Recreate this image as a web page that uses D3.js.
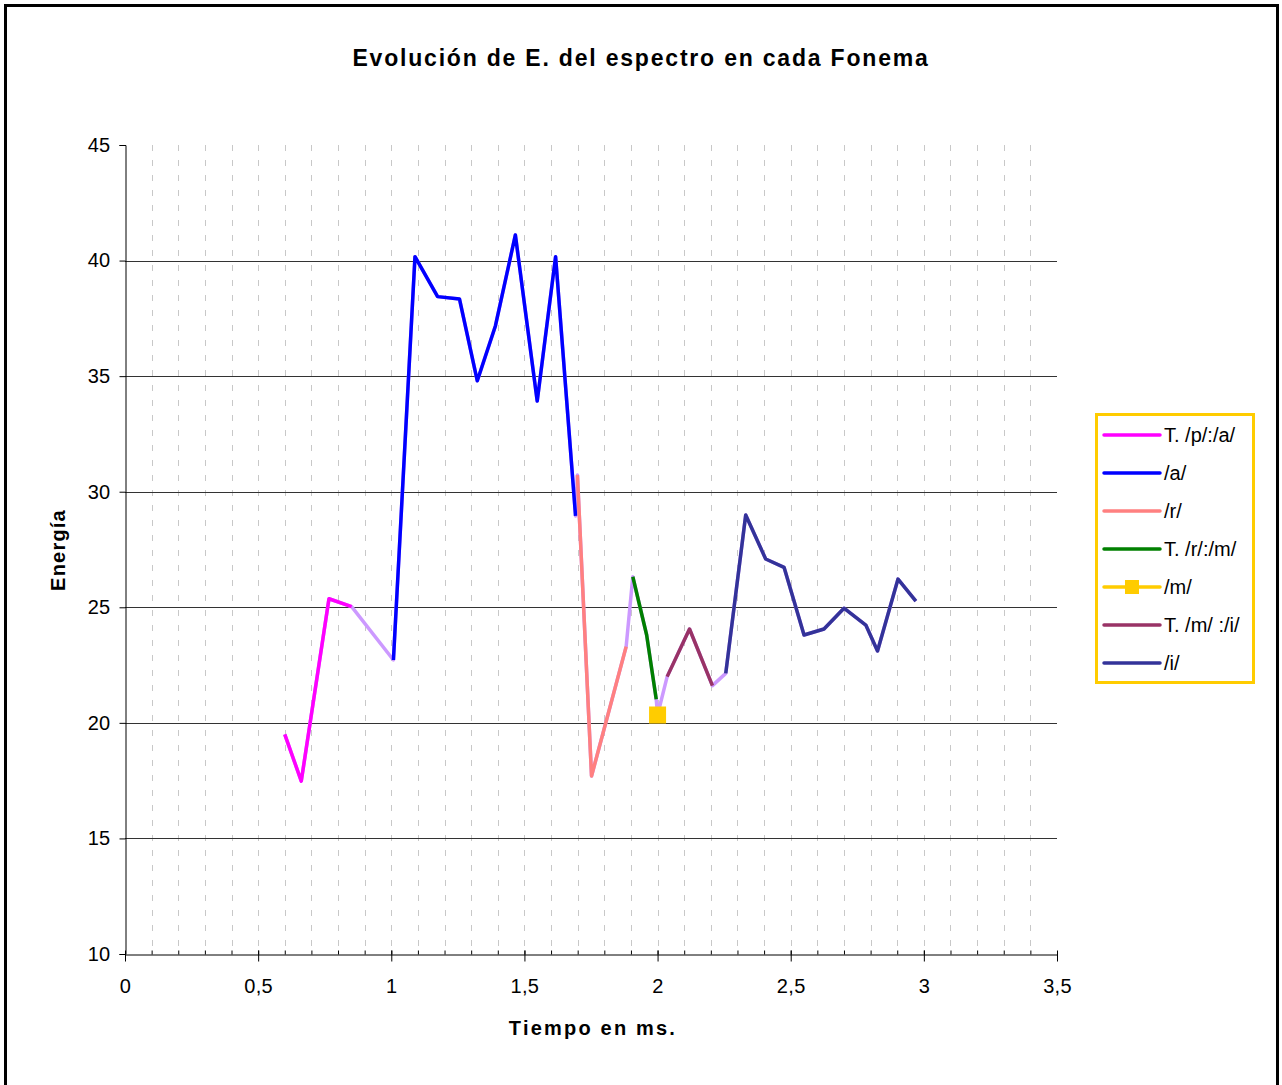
<!DOCTYPE html>
<html>
<head>
<meta charset="utf-8">
<script src="https://cdn.jsdelivr.net/npm/d3@7"></script>
<style>
    body { margin: 0; background: #fff; }
    text { font-family: "Liberation Sans", Arial, sans-serif; fill: #000; }
</style>
</head>
<body>
<script>
//series data (tiempo in ms, energia)
var seriesNames = ["T. /p/:/a/", "/a/", "/r/", "T. /r/:/m/", "/m/", "T. /m/ :/i/", "/i/"];

var tiempoPA = [0.600, 0.662, 0.766, 0.851];
var energiaPA = [19.50, 17.48, 25.37, 25.03];

var tiempoA = [1.008, 1.089, 1.174, 1.256, 1.323, 1.391, 1.466, 1.548, 1.617, 1.692];
var energiaA = [22.72, 40.17, 38.44, 38.34, 34.80, 37.17, 41.11, 33.92, 40.17, 28.95];

var tiempoR = [1.699, 1.752, 1.882];
var energiaR = [30.72, 17.70, 23.30];

var tiempoRM = [1.907, 1.959, 1.995];
var energiaRM = [26.32, 23.80, 21.02];

var tiempoM = [2.000];
var energiaM = [20.34];

var tiempoMI = [2.036, 2.120, 2.206];
var energiaMI = [22.00, 24.06, 21.61];

var tiempoI = [2.256, 2.331, 2.406, 2.475, 2.550, 2.625, 2.700, 2.782, 2.826, 2.903, 2.970];
var energiaI = [22.14, 28.99, 27.09, 26.73, 23.80, 24.06, 24.96, 24.23, 23.11, 26.22, 25.27];

//axis ticks
var yTicks = [10, 15, 20, 25, 30, 35, 40, 45];
var yGridTicks = [15, 20, 25, 30, 35, 40];
var xTicks = [0, 0.5, 1, 1.5, 2, 2.5, 3, 3.5];
var xMinorTicks = d3.range(1, 35).map(function(i){ return i / 10; });

window.onload = function(){

    var w = 1282, h = 1085;
    var colors = ["#FF00FF", "#0000FF", "#FF8080", "#008000", "#FFCC00", "#993366", "#333399"];

    //group x/y arrays into series
    var tiempos = [tiempoPA, tiempoA, tiempoR, tiempoRM, tiempoM, tiempoMI, tiempoI];
    var energias = [energiaPA, energiaA, energiaR, energiaRM, energiaM, energiaMI, energiaI];
    var series = seriesNames.map(function(name, i){
        return {
            name: name,
            color: colors[i],
            points: tiempos[i].map(function(t, j){ return [t, energias[i][j]]; })
        };
    });
    //every point in order, drawn underneath (the lilac joins)
    var allPoints = [].concat.apply([], series.map(function(s){ return s.points; }));

    var svg = d3.select("body")
        .append("svg")
        .attr("width", w)
        .attr("height", h);

    //outer frame
    svg.append("rect")
        .attr("x", 5.5)
        .attr("y", 5.5)
        .attr("width", 1272)
        .attr("height", 1100)
        .style("fill", "#fff")
        .style("stroke", "#000")
        .style("stroke-width", 3);

    //scales
    var x = d3.scaleLinear()
        .domain([0, 3.5])
        .range([125, 1057]);

    var y = d3.scaleLinear()
        .domain([10, 45])
        .range([954, 145]);

    var comma = function(d){ return String(d).replace(".", ","); };

    //vertical dashed grid
    svg.append("g")
        .selectAll("line")
        .data(xMinorTicks)
        .enter()
        .append("line")
        .attr("x1", function(d){ return Math.round(x(d)) + 0.5; })
        .attr("x2", function(d){ return Math.round(x(d)) + 0.5; })
        .attr("y1", y(45))
        .attr("y2", y(10))
        .style("stroke", "#c8c8c8")
        .style("stroke-width", 1)
        .style("stroke-dasharray", "6,9");

    //horizontal grid
    svg.append("g")
        .selectAll("line")
        .data(yGridTicks)
        .enter()
        .append("line")
        .attr("x1", x(0))
        .attr("x2", x(3.5))
        .attr("y1", function(d){ return Math.round(y(d)) + 0.5; })
        .attr("y2", function(d){ return Math.round(y(d)) + 0.5; })
        .style("stroke", "#333")
        .style("stroke-width", 1);

    //y axis
    svg.append("g")
        .attr("transform", "translate(125.5,0)")
        .call(d3.axisLeft(y).tickValues(yTicks).tickSize(6).tickPadding(9).tickFormat(comma));

    //x axis minor ticks (inside)
    svg.append("g")
        .attr("transform", "translate(0,954.5)")
        .call(d3.axisBottom(x).tickValues(xMinorTicks).tickSize(-4).tickFormat(""))
        .select(".domain").remove();

    //x axis major ticks and labels
    var xAxis = svg.append("g")
        .attr("transform", "translate(0,954.5)")
        .call(d3.axisBottom(x).tickValues(xTicks).tickSize(7).tickSizeOuter(0).tickPadding(17).tickFormat(comma));

    xAxis.selectAll(".tick line").attr("y1", -4);

    svg.selectAll(".domain").style("stroke", "#000");
    svg.selectAll(".tick line").style("stroke", "#000");
    svg.selectAll(".tick text")
        .style("font-family", "'Liberation Sans', Arial, sans-serif")
        .style("font-size", "20px")
        .style("letter-spacing", "0.3px");

    //line generator
    var line = d3.line()
        .x(function(d){ return x(d[0]); })
        .y(function(d){ return y(d[1]); });

    //lilac base line joining all phonemes
    svg.append("path")
        .datum(allPoints)
        .attr("d", line)
        .style("fill", "none")
        .style("stroke", "#CC99FF")
        .style("stroke-width", 3.5)
        .style("stroke-linejoin", "round");

    //each phoneme series
    svg.selectAll(".serie")
        .data(series)
        .enter()
        .append("path")
        .attr("class", "serie")
        .attr("d", function(d){ return line(d.points); })
        .style("fill", "none")
        .style("stroke", function(d){ return d.color; })
        .style("stroke-width", 3.5)
        .style("stroke-linejoin", "round");

    //square markers for /m/
    svg.selectAll(".marker")
        .data(series[4].points)
        .enter()
        .append("rect")
        .attr("class", "marker")
        .attr("x", function(d){ return x(d[0]) - 8.5; })
        .attr("y", function(d){ return y(d[1]) - 8.5; })
        .attr("width", 17)
        .attr("height", 17)
        .style("fill", "#FFCC00");

    //title
    svg.append("text")
        .attr("x", 641)
        .attr("y", 66)
        .attr("text-anchor", "middle")
        .style("font-size", "23px")
        .style("font-weight", "bold")
        .style("letter-spacing", "1.8px")
        .text("Evolución de E. del espectro en cada Fonema");

    //axis titles
    svg.append("text")
        .attr("x", 593)
        .attr("y", 1035)
        .attr("text-anchor", "middle")
        .style("font-size", "20px")
        .style("font-weight", "bold")
        .style("letter-spacing", "2.2px")
        .text("Tiempo en ms.");

    svg.append("text")
        .attr("transform", "translate(65,550) rotate(-90)")
        .attr("text-anchor", "middle")
        .style("font-size", "20px")
        .style("font-weight", "bold")
        .style("letter-spacing", "1.2px")
        .text("Energía");

    //legend
    var legend = svg.append("g");

    legend.append("rect")
        .attr("x", 1096.5)
        .attr("y", 414.5)
        .attr("width", 157)
        .attr("height", 268)
        .style("fill", "#fff")
        .style("stroke", "#FFCC00")
        .style("stroke-width", 3);

    var items = legend.selectAll(".item")
        .data(series)
        .enter()
        .append("g")
        .attr("class", "item")
        .attr("transform", function(d, i){ return "translate(0," + (435 + i * 38) + ")"; });

    items.append("line")
        .attr("x1", 1104)
        .attr("x2", 1160)
        .style("stroke", function(d){ return d.color; })
        .style("stroke-width", 3.5)
        .style("stroke-linecap", "round");

    items.filter(function(d, i){ return i === 4; })
        .append("rect")
        .attr("x", 1125)
        .attr("y", -7)
        .attr("width", 14)
        .attr("height", 14)
        .style("fill", "#FFCC00");

    items.append("text")
        .attr("x", 1164)
        .attr("y", 7)
        .style("font-size", "20px")
        .text(function(d){ return d.name; });
};
</script>
</body>
</html>
